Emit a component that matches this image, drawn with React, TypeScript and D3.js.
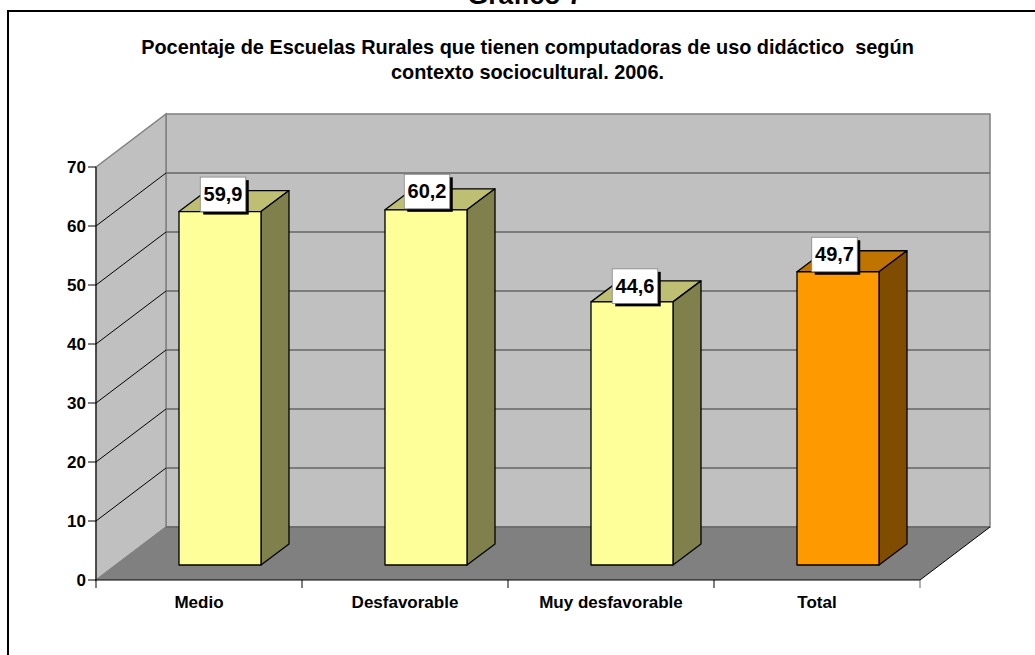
import React from "react";
import * as d3 from "d3";

const categories = ["Medio", "Desfavorable", "Muy desfavorable", "Total"];
const values = [59.9, 60.2, 44.6, 49.7];
const valueLabels = ["59,9", "60,2", "44,6", "49,7"];
const yTicks = [0, 10, 20, 30, 40, 50, 60, 70];
const heading = "Gráfico 7";
const titleLines = [
  "Pocentaje de Escuelas Rurales que tienen computadoras de uso didáctico  según",
  "contexto sociocultural. 2006.",
];

const W = 1035;
const H = 655;
const FONT = "'Liberation Sans', Arial, sans-serif";
const depthX = 70;
const depthY = -53;
const barDepthX = 28;
const barDepthY = -21;
const barBase = 565;
const barShiftX = 21;
const labelNudge = [3, 1, 3, -3.5];
const labelTopGap = [-34.5, -35.5, -33, -34.5];

const x = d3.scaleBand<string>().domain(categories).range([96, 920]).padding(0);
const y = d3.scaleLinear().domain([0, 70]).range([580, 167]);

const pts = (p: [number, number][]) => p.map((d) => d.join(",")).join(" ");

const palette = (i: number) =>
  i === 3
    ? { front: "#FF9900", top: "#BF7300", side: "#804D00" }
    : { front: "#FFFF99", top: "#BFBF73", side: "#80804D" };

export default function App() {
  const x0 = x.range()[0];
  const x1 = x.range()[1];
  const y0 = y(0);
  const yT = y(70);
  const bw = 82;
  return (
    <svg
      width={W}
      height={H}
      viewBox={`0 0 ${W} ${H}`}
      style={{ position: "fixed", left: 0, top: 0, display: "block", background: "#fff" }}
      fontFamily={FONT}
    >
      <text x={525} y={4} textAnchor="middle" fontWeight="bold" fontSize={26.5} fill="#000">
        {heading}
      </text>
      <path d={`M${W + 2},11 H8 V${H + 2}`} fill="none" stroke="#000" strokeWidth={2} />

      {titleLines.map((t, i) => (
        <text
          key={i}
          x={527.5}
          y={53.5 + i * 25}
          textAnchor="middle"
          fontWeight="bold"
          fontSize={19.9}
          fill="#000"
          style={{ whiteSpace: "pre" }}
        >
          {t}
        </text>
      ))}

      {/* walls and floor */}
      <polygon
        points={pts([[x0 + depthX, yT + depthY], [x1 + depthX, yT + depthY], [x1 + depthX, y0 + depthY], [x0 + depthX, y0 + depthY]])}
        fill="#C0C0C0"
        stroke="#808080"
        strokeWidth={1.5}
      />
      <polygon
        points={pts([[x0, yT], [x0 + depthX, yT + depthY], [x0 + depthX, y0 + depthY], [x0, y0]])}
        fill="#C0C0C0"
        stroke="#808080"
        strokeWidth={1.5}
      />
      <polygon
        points={pts([[x0, y0], [x0 + depthX, y0 + depthY], [x1 + depthX, y0 + depthY], [x1, y0]])}
        fill="#808080"
        stroke="none"
      />

      {/* gridlines */}
      {yTicks.slice(1, -1).map((t) => (
        <g key={t}>
          <line x1={x0} y1={y(t)} x2={x0 + depthX} y2={y(t) + depthY} stroke="#000" strokeWidth={1} />
          <line x1={x0 + depthX} y1={y(t) + depthY} x2={x1 + depthX} y2={y(t) + depthY} stroke="#666" strokeWidth={1.5} />
        </g>
      ))}
      <line x1={x0 + depthX} y1={y0 + depthY} x2={x1 + depthX} y2={y0 + depthY} stroke="#666" strokeWidth={1.5} />
      <line x1={x0} y1={y0} x2={x0 + depthX} y2={y0 + depthY} stroke="#808080" strokeWidth={1} />
      <line x1={x1} y1={y0} x2={x1 + depthX} y2={y0 + depthY} stroke="#000" strokeWidth={1} />

      {/* axes */}
      <line x1={x0} y1={yT} x2={x0} y2={y0 + 8} stroke="#000" strokeWidth={1} />
      <line x1={x0 - 1} y1={y0} x2={x1} y2={y0} stroke="#000" strokeWidth={1} />
      {yTicks.map((t) => (
        <g key={t}>
          <line x1={x0 - 8} y1={y(t)} x2={x0} y2={y(t)} stroke="#000" strokeWidth={1} />
          <text x={x0 - 10} y={y(t) + 6} textAnchor="end" fontWeight="bold" fontSize={17} fill="#000">
            {t}
          </text>
        </g>
      ))}
      {categories.map((c) => (
        <g key={c}>
          <line x1={(x(c) as number) + x.bandwidth()} y1={y0} x2={(x(c) as number) + x.bandwidth()} y2={y0 + 8} stroke={c === "Total" ? "#666" : "#000"} strokeWidth={1} />
          <text x={(x(c) as number) + x.bandwidth() / 2} y={y0 + 28} textAnchor="middle" fontWeight="bold" fontSize={17} fill="#000">
            {c}
          </text>
        </g>
      ))}

      {/* bars */}
      {categories.map((c, i) => {
        const left = (x(c) as number) + x.bandwidth() / 2 + barShiftX - bw / 2;
        const right = left + bw;
        const top = barBase - (y0 - y(values[i]));
        const col = palette(i);
        return (
          <g key={c} stroke="#000" strokeWidth={1.3} strokeLinejoin="round">
            <polygon points={pts([[left, top], [left + barDepthX, top + barDepthY], [right + barDepthX, top + barDepthY], [right, top]])} fill={col.top} />
            <polygon points={pts([[right, top], [right + barDepthX, top + barDepthY], [right + barDepthX, barBase + barDepthY], [right, barBase]])} fill={col.side} />
            <rect x={left} y={top} width={bw} height={barBase - top} fill={col.front} />
          </g>
        );
      })}

      {/* value labels */}
      {categories.map((c, i) => {
        const cx = (x(c) as number) + x.bandwidth() / 2 + barShiftX + labelNudge[i];
        const top = barBase - (y0 - y(values[i])) + labelTopGap[i];
        const lw = 45.5;
        const lh = 34.5;
        return (
          <g key={c}>
            <rect x={cx - lw / 2 + 3} y={top + 3} width={lw} height={lh} fill="#000" />
            <rect x={cx - lw / 2} y={top} width={lw} height={lh} fill="#fff" stroke="#808080" strokeWidth={0.75} />
            <text x={cx} y={top + 24} textAnchor="middle" fontWeight="bold" fontSize={20} fill="#000">
              {valueLabels[i]}
            </text>
          </g>
        );
      })}
    </svg>
  );
}
